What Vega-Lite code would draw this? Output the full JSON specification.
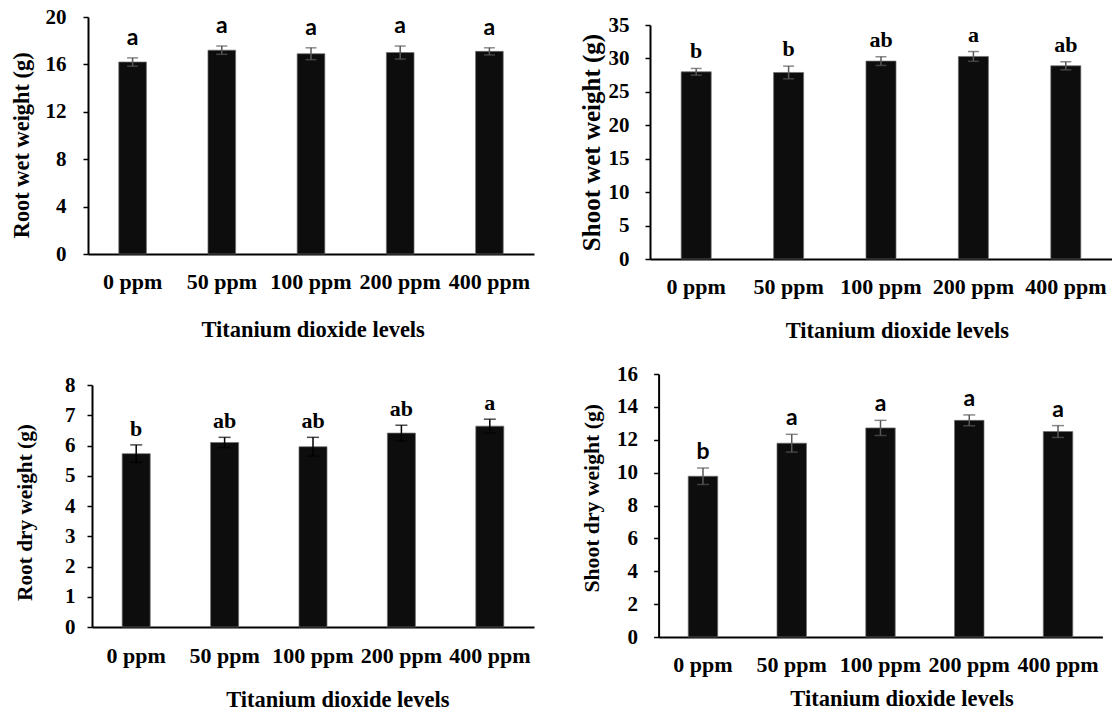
{
  "$schema": "https://vega.github.io/schema/vega-lite/v6.json",
  "background": "white",
  "padding": {"left": 10, "top": 6, "right": 0, "bottom": 0},
  "config": {
    "view": {"stroke": null},
    "axis": {
      "grid": false,
      "domainColor": "black",
      "domainWidth": 2,
      "tickColor": "black",
      "tickWidth": 1.5,
      "labelFont": "Liberation Serif",
      "labelFontWeight": "bold",
      "labelColor": "black",
      "titleFont": "Liberation Serif",
      "titleFontWeight": "bold",
      "titleColor": "black",
      "labelOverlap": false
    },
    "axisX": {"ticks": false, "tickSize": 0, "labelAngle": 0, "labelFontSize": 22, "labelBaseline": "alphabetic", "labelPadding": 34, "titleFontSize": 22.5, "titleBaseline": "alphabetic", "titleAlign": "center"},
    "axisY": {"tickSize": 5, "tickCount": 20, "labelFontSize": 21, "titleAlign": "center", "titleBaseline": "middle", "titleAngle": 270}
  },
  "datasets": {
    "rootWet": [
      {"level": "0 ppm", "mean": 16.2, "lo": 15.85, "hi": 16.55, "sig": "a"},
      {"level": "50 ppm", "mean": 17.2, "lo": 16.85, "hi": 17.55, "sig": "a"},
      {"level": "100 ppm", "mean": 16.9, "lo": 16.4, "hi": 17.4, "sig": "a"},
      {"level": "200 ppm", "mean": 17.0, "lo": 16.45, "hi": 17.55, "sig": "a"},
      {"level": "400 ppm", "mean": 17.1, "lo": 16.8, "hi": 17.4, "sig": "a"}
    ],
    "shootWet": [
      {"level": "0 ppm", "mean": 28.0, "lo": 27.5, "hi": 28.5, "sig": "b"},
      {"level": "50 ppm", "mean": 27.9, "lo": 26.95, "hi": 28.85, "sig": "b"},
      {"level": "100 ppm", "mean": 29.6, "lo": 28.95, "hi": 30.25, "sig": "ab"},
      {"level": "200 ppm", "mean": 30.3, "lo": 29.57, "hi": 31.03, "sig": "a"},
      {"level": "400 ppm", "mean": 28.9, "lo": 28.3, "hi": 29.5, "sig": "ab"}
    ],
    "rootDry": [
      {"level": "0 ppm", "mean": 5.73, "lo": 5.44, "hi": 6.02, "sig": "b"},
      {"level": "50 ppm", "mean": 6.1, "lo": 5.93, "hi": 6.27, "sig": "ab"},
      {"level": "100 ppm", "mean": 5.96, "lo": 5.65, "hi": 6.27, "sig": "ab"},
      {"level": "200 ppm", "mean": 6.41, "lo": 6.15, "hi": 6.67, "sig": "ab"},
      {"level": "400 ppm", "mean": 6.64, "lo": 6.41, "hi": 6.87, "sig": "a"}
    ],
    "shootDry": [
      {"level": "0 ppm", "mean": 9.78, "lo": 9.28, "hi": 10.28, "sig": "b"},
      {"level": "50 ppm", "mean": 11.79, "lo": 11.25, "hi": 12.33, "sig": "a"},
      {"level": "100 ppm", "mean": 12.72, "lo": 12.26, "hi": 13.18, "sig": "a"},
      {"level": "200 ppm", "mean": 13.18, "lo": 12.85, "hi": 13.51, "sig": "a"},
      {"level": "400 ppm", "mean": 12.5, "lo": 12.14, "hi": 12.86, "sig": "a"}
    ]
  },
  "columns": 2,
  "align": "each",
  "bounds": "flush",
  "spacing": {"row": 115, "column": 116},
  "concat": [
    {
      "data": {"name": "rootWet"},
      "width": 446,
      "height": 237,
      "encoding": {
        "x": {"field": "level", "type": "nominal", "sort": null,
          "scale": {"range": [0, 446], "paddingInner": 0.69, "paddingOuter": 0.345},
          "axis": {"title": "Titanium dioxide levels", "titleX": 224.7, "titleY": 82.9, "labelOverlap": false}}
      },
      "layer": [
        {"mark": {"type": "bar", "color": "#0d0d0d", "stroke": "#6e6e6e", "strokeWidth": 0.7},
         "encoding": {"y": {"field": "mean", "type": "quantitative", "title": "Root wet weight (g)",
           "scale": {"domain": [0, 20], "nice": false, "zero": true, "range": [237, 0]},
           "axis": {"values": [0, 4, 8, 12, 16, 20], "format": "d", "tickCount": 20, "labelOverlap": false, "labelPadding": 17, "titleFontSize": 22.4, "titleX": -66.3, "titleY": 127.8}}}},
        {"mark": {"type": "rule", "color": "#595959", "strokeWidth": 1.5},
         "encoding": {"y": {"field": "lo", "type": "quantitative", "title": "Root wet weight (g)"}, "y2": {"field": "hi"}}},
        {"mark": {"type": "tick", "color": "#595959", "size": 11, "thickness": 1.5},
         "encoding": {"y": {"field": "lo", "type": "quantitative", "title": "Root wet weight (g)"}}},
        {"mark": {"type": "tick", "color": "#595959", "size": 11, "thickness": 1.5},
         "encoding": {"y": {"field": "hi", "type": "quantitative", "title": "Root wet weight (g)"}}},
        {"mark": {"type": "text", "font": "Lato", "fontWeight": "bold", "fontSize": 23, "baseline": "alphabetic", "dy": -13, "color": "black"},
         "encoding": {"y": {"field": "hi", "type": "quantitative", "title": "Root wet weight (g)"}, "text": {"field": "sig"}}}
      ]
    },
    {
      "data": {"name": "shootWet"},
      "width": 462,
      "height": 242,
      "encoding": {
        "x": {"field": "level", "type": "nominal", "sort": null,
          "scale": {"range": [0, 462], "paddingInner": 0.675, "paddingOuter": 0.3375},
          "axis": {"title": "Titanium dioxide levels", "titleX": 246.9, "titleY": 78.2, "labelOverlap": false}}
      },
      "layer": [
        {"mark": {"type": "bar", "color": "#0d0d0d", "stroke": "#6e6e6e", "strokeWidth": 0.7},
         "encoding": {"y": {"field": "mean", "type": "quantitative", "title": "Shoot wet weight (g)",
           "scale": {"domain": [0, 35], "nice": false, "zero": true, "range": [242, 8]},
           "axis": {"values": [0, 5, 10, 15, 20, 25, 30, 35], "format": "d", "tickCount": 20, "labelOverlap": false, "labelPadding": 16, "titleFontSize": 25, "titleX": -58.5, "titleY": 125}}}},
        {"mark": {"type": "rule", "color": "#595959", "strokeWidth": 1.5},
         "encoding": {"y": {"field": "lo", "type": "quantitative", "title": "Shoot wet weight (g)"}, "y2": {"field": "hi"}}},
        {"mark": {"type": "tick", "color": "#595959", "size": 11, "thickness": 1.5},
         "encoding": {"y": {"field": "lo", "type": "quantitative", "title": "Shoot wet weight (g)"}}},
        {"mark": {"type": "tick", "color": "#595959", "size": 11, "thickness": 1.5},
         "encoding": {"y": {"field": "hi", "type": "quantitative", "title": "Shoot wet weight (g)"}}},
        {"mark": {"type": "text", "font": "Liberation Serif", "fontWeight": "bold", "fontSize": 22, "baseline": "alphabetic", "dy": -10, "color": "black"},
         "encoding": {"y": {"field": "hi", "type": "quantitative", "title": "Shoot wet weight (g)"}, "text": {"field": "sig"}}}
      ]
    },
    {
      "data": {"name": "rootDry"},
      "width": 446,
      "height": 253,
      "encoding": {
        "x": {"field": "level", "type": "nominal", "sort": null,
          "scale": {"range": [4, 446], "paddingInner": 0.683, "paddingOuter": 0.3415},
          "axis": {"title": "Titanium dioxide levels", "titleX": 249.4, "titleY": 79.3, "labelPadding": 35, "labelOverlap": false}}
      },
      "layer": [
        {"mark": {"type": "bar", "color": "#0d0d0d", "stroke": "#6e6e6e", "strokeWidth": 0.7},
         "encoding": {"y": {"field": "mean", "type": "quantitative", "title": "Root dry weight (g)",
           "scale": {"domain": [0, 8], "nice": false, "zero": true, "range": [253, 11]},
           "axis": {"values": [0, 1, 2, 3, 4, 5, 6, 7, 8], "format": "d", "tickCount": 20, "labelOverlap": false, "offset": -4, "labelPadding": 12, "titleFontSize": 21.3, "titleX": -66.8, "titleY": 138}}}},
        {"mark": {"type": "rule", "color": "black", "strokeWidth": 1.5},
         "encoding": {"y": {"field": "lo", "type": "quantitative", "title": "Root dry weight (g)"}, "y2": {"field": "hi"}}},
        {"mark": {"type": "tick", "color": "black", "size": 12, "thickness": 1.5},
         "encoding": {"y": {"field": "lo", "type": "quantitative", "title": "Root dry weight (g)"}}},
        {"mark": {"type": "tick", "color": "black", "size": 12, "thickness": 1.5},
         "encoding": {"y": {"field": "hi", "type": "quantitative", "title": "Root dry weight (g)"}}},
        {"mark": {"type": "text", "font": "Liberation Serif", "fontWeight": "bold", "fontSize": 22, "baseline": "alphabetic", "dy": -9, "color": "black"},
         "encoding": {"y": {"field": "hi", "type": "quantitative", "title": "Root dry weight (g)"}, "text": {"field": "sig"}}}
      ]
    },
    {
      "data": {"name": "shootDry"},
      "width": 452,
      "height": 263,
      "encoding": {
        "x": {"field": "level", "type": "nominal", "sort": null,
          "scale": {"range": [8.6, 452.4], "paddingInner": 0.668, "paddingOuter": 0.334},
          "axis": {"title": "Titanium dioxide levels", "titleX": 251.5, "titleY": 68.3, "labelPadding": 34.5, "labelOverlap": false}}
      },
      "layer": [
        {"mark": {"type": "bar", "color": "#0d0d0d", "stroke": "#6e6e6e", "strokeWidth": 0.7},
         "encoding": {"y": {"field": "mean", "type": "quantitative", "title": "Shoot dry weight (g)",
           "scale": {"domain": [0, 16], "nice": false, "zero": true, "range": [263, 0]},
           "axis": {"values": [0, 2, 4, 6, 8, 10, 12, 14, 16], "format": "d", "tickCount": 20, "labelOverlap": false, "offset": -8.6, "labelPadding": 16, "titleFontSize": 21.7, "titleX": -67.1, "titleY": 123.8}}}},
        {"mark": {"type": "rule", "color": "#595959", "strokeWidth": 1.5},
         "encoding": {"y": {"field": "lo", "type": "quantitative", "title": "Shoot dry weight (g)"}, "y2": {"field": "hi"}}},
        {"mark": {"type": "tick", "color": "#595959", "size": 12, "thickness": 1.5},
         "encoding": {"y": {"field": "lo", "type": "quantitative", "title": "Shoot dry weight (g)"}}},
        {"mark": {"type": "tick", "color": "#595959", "size": 12, "thickness": 1.5},
         "encoding": {"y": {"field": "hi", "type": "quantitative", "title": "Shoot dry weight (g)"}}},
        {"mark": {"type": "text", "font": "Lato", "fontWeight": "bold", "fontSize": 23, "baseline": "alphabetic", "dy": -9, "color": "black"},
         "encoding": {"y": {"field": "hi", "type": "quantitative", "title": "Shoot dry weight (g)"}, "text": {"field": "sig"}}}
      ]
    }
  ]
}
